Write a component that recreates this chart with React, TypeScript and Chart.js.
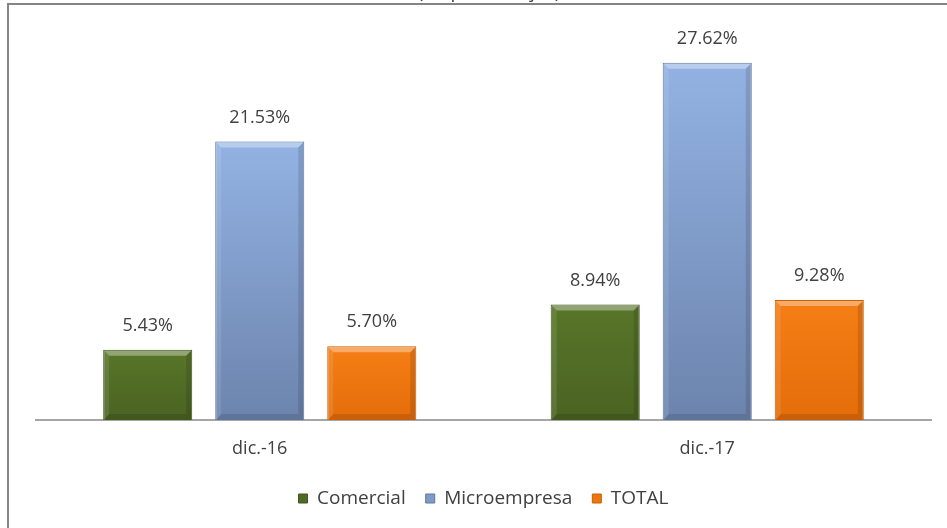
import React, { useEffect, useRef } from "react";
import { Chart, registerables } from "chart.js";

Chart.register(...registerables);

const categories = ["dic.-16", "dic.-17"];
const seriesNames = ["Comercial", "Microempresa", "TOTAL"];
const comercial = [5.43, 8.94];
const microempresa = [21.53, 27.62];
const total = [5.7, 9.28];
const titleText = "(en porcentajes)";
const yMax = 30;

const FONT = "'Open Sans', 'Noto Sans', sans-serif";
const TEXT = "#404040";

const topColors = ["#587629", "#93b2e3", "#f57e16"];
const bottomColors = ["#4a6322", "#6c84ad", "#e56d0a"];
const borderColors = ["#3f561c", "#5e769c", "#c95f08"];
const legendColors = ["#4f6b25", "#7f9cc9", "#ee760f"];

function gradientFor(i: number) {
  return (ctx: any) => {
    const chart = ctx.chart;
    const y = chart.scales && chart.scales.y;
    if (!y || ctx.raw === undefined) return legendColors[i];
    const top = y.getPixelForValue(ctx.raw);
    const bottom = y.getPixelForValue(0);
    if (!isFinite(top) || !isFinite(bottom) || top === bottom) return legendColors[i];
    const g = chart.ctx.createLinearGradient(0, top, 0, bottom);
    g.addColorStop(0, topColors[i]);
    g.addColorStop(1, bottomColors[i]);
    return g;
  };
}

const framePlugin = {
  id: "frame",
  afterDraw(chart: any) {
    const c = chart.ctx;
    c.save();
    c.fillStyle = TEXT;
    c.font = `19px ${FONT}`;
    c.textAlign = "center";
    c.textBaseline = "alphabetic";
    c.fillText(titleText, 489, -2);
    c.fillStyle = "#858585";
    c.fillRect(7, 3, chart.width - 7, 2);
    c.fillRect(7, 3, 2, chart.height - 3);
    c.restore();
  },
};

const bevelPlugin = {
  id: "bevel",
  afterDatasetsDraw(chart: any) {
    const c = chart.ctx;
    c.save();
    chart.data.datasets.forEach((_: any, di: number) => {
      const meta = chart.getDatasetMeta(di);
      meta.data.forEach((el: any) => {
        const l = el.x - el.width / 2;
        const r = el.x + el.width / 2;
        const t = el.y;
        const b = el.base;
        const s = 6;
        c.fillStyle = "rgba(255,255,255,0.35)";
        c.beginPath();
        c.moveTo(l + 1, t + 1);
        c.lineTo(r - 1, t + 1);
        c.lineTo(r - s, t + s);
        c.lineTo(l + s, t + s);
        c.closePath();
        c.fill();
        c.fillStyle = "rgba(255,255,255,0.10)";
        c.beginPath();
        c.moveTo(l + 1, t + 1);
        c.lineTo(l + s, t + s);
        c.lineTo(l + s, b - s);
        c.lineTo(l + 1, b);
        c.closePath();
        c.fill();
        c.fillStyle = "rgba(0,0,0,0.12)";
        c.beginPath();
        c.moveTo(r - 1, t + 1);
        c.lineTo(r - s, t + s);
        c.lineTo(r - s, b - s);
        c.lineTo(r - 1, b);
        c.closePath();
        c.fill();
        c.fillStyle = "rgba(0,0,0,0.12)";
        c.beginPath();
        c.moveTo(l + 1, b);
        c.lineTo(r - 1, b);
        c.lineTo(r - s, b - s);
        c.lineTo(l + s, b - s);
        c.closePath();
        c.fill();
      });
    });
    c.restore();
  },
};

const valueLabelPlugin = {
  id: "valueLabels",
  afterDatasetsDraw(chart: any) {
    const c = chart.ctx;
    c.save();
    c.fillStyle = TEXT;
    c.font = `18px ${FONT}`;
    c.textAlign = "center";
    c.textBaseline = "middle";
    chart.data.datasets.forEach((ds: any, di: number) => {
      const meta = chart.getDatasetMeta(di);
      meta.data.forEach((el: any, i: number) => {
        c.fillText(ds.data[i].toFixed(2) + "%", el.x, el.y - 24);
      });
    });
    c.restore();
  },
};

export default function App() {
  const ref = useRef<HTMLCanvasElement | null>(null);
  useEffect(() => {
    if (!ref.current) return;
    const series = [comercial, microempresa, total];
    const chart = new Chart(ref.current, {
      type: "bar",
      data: {
        labels: categories,
        datasets: series.map((d, i) => ({
          label: seriesNames[i],
          data: d,
          backgroundColor: gradientFor(i),
          borderColor: borderColors[i],
          borderWidth: 1,
          categoryPercentage: 0.751,
          barPercentage: 0.795,
        })),
      },
      options: {
        animation: false,
        responsive: false,
        maintainAspectRatio: false,
        layout: { padding: { left: 36, right: 16, top: 32, bottom: 10 } },
        scales: {
          y: { display: false, min: 0, max: yMax },
          x: {
            grid: { display: false, drawTicks: false },
            border: { display: true, color: "#a6a6a6", width: 2 },
            ticks: { color: TEXT, font: { family: FONT, size: 18 }, padding: 18 },
            afterFit: (scale: any) => {
              scale.height = 49;
            },
          },
        },
        plugins: {
          title: { display: false },
          tooltip: { enabled: false },
          legend: {
            position: "bottom",
            labels: {
              color: TEXT,
              font: { family: FONT, size: 19 },
              boxWidth: 9,
              boxHeight: 9,
              padding: 20,
              generateLabels: (ch: any) =>
                (Chart.defaults.plugins.legend.labels as any)
                  .generateLabels(ch)
                  .map((l: any, i: number) => ({
                    ...l,
                    fillStyle: legendColors[i],
                    strokeStyle: borderColors[i],
                    lineWidth: 1,
                  })),
            },
          },
        },
      },
      plugins: [bevelPlugin, valueLabelPlugin, framePlugin],
    });
    return () => chart.destroy();
  }, []);
  return (
    <div style={{ position: "absolute", left: 0, top: 0, width: 947, height: 528, background: "#fff" }}>
      <canvas ref={ref} width={947} height={528} style={{ display: "block", width: 947, height: 528 }} />
    </div>
  );
}
